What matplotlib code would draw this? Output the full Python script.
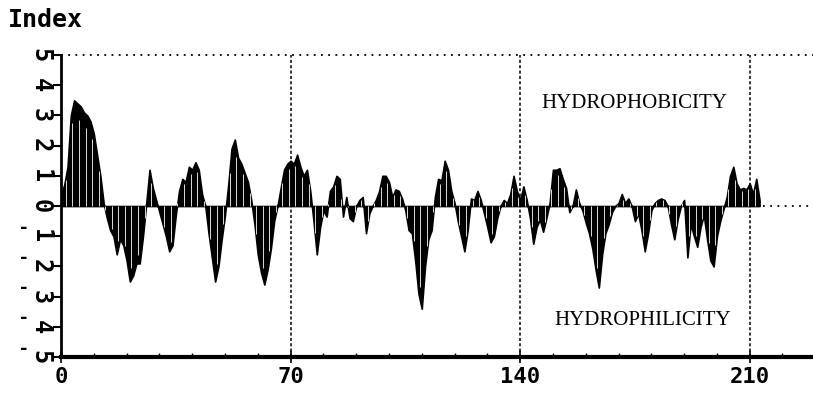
import numpy as np
import matplotlib.pyplot as plt

# Perfil de hidrofobicidad (un valor por residuo)
valores = [
    0.4, 0.7, 1.3, 3.0, 3.5, 3.4, 3.3, 3.1, 3.0, 2.8,
    2.4, 1.7, 1.0, 0.1, -0.4, -0.8, -1.0, -1.6, -1.1, -1.3,
    -1.8, -2.5, -2.3, -1.9, -1.9, -1.0, 0.1, 1.2, 0.6, 0.2,
    -0.2, -0.6, -1.0, -1.5, -1.3, -0.3, 0.5, 0.9, 0.8, 1.3,
    1.2, 1.45, 1.2, 0.4, 0.0, -0.9, -1.7, -2.5, -2.0, -1.1,
    -0.3, 0.7, 1.9, 2.2, 1.6, 1.4, 1.1, 0.8, 0.2, -0.6,
    -1.6, -2.2, -2.6, -2.1, -1.4, -0.5, 0.0, 0.6, 1.2, 1.4,
    1.5, 1.4, 1.7, 1.3, 1.0, 1.2, 0.5, -0.5, -1.6, -0.7,
    -0.15, -0.35, 0.5, 0.65, 1.0, 0.9, -0.35, 0.3, -0.4, -0.5,
    0.0, 0.2, 0.3, -0.9, -0.25, 0.0, 0.2, 0.5, 1.0, 1.0,
    0.8, 0.3, 0.55, 0.5, 0.25, -0.15, -0.8, -0.9, -1.8, -2.9,
    -3.4, -2.0, -1.1, -0.8, 0.3, 0.9, 0.85, 1.5, 1.2, 0.5,
    0.1, -0.5, -1.0, -1.5, -0.8, 0.25, 0.2, 0.5, 0.2, -0.25,
    -0.7, -1.2, -1.0, -0.4, 0.0, 0.2, 0.1, 0.4, 1.0, 0.5,
    0.2, 0.65, 0.2, -0.4, -1.25, -0.7, -0.45, -0.85, -0.4, 0.1,
    1.2, 1.2, 1.25, 0.9, 0.6, -0.2, 0.0, 0.55, 0.1, -0.15,
    -0.55, -0.9, -1.4, -2.1, -2.7, -1.6, -0.9, -0.6, -0.2, 0.0,
    0.1, 0.4, 0.1, 0.25, 0.0, -0.5, -0.25, -0.8, -1.5, -0.9,
    -0.15, 0.1, 0.2, 0.25, 0.2, 0.0, -0.6, -1.1, -0.45, 0.0,
    0.2, -1.7, -0.6, -1.0, -1.35, -0.7, -0.3, -1.1, -1.8, -2.0,
    -1.0, -0.5, -0.1, 0.3, 1.0, 1.3, 0.75, 0.55, 0.6, 0.55,
    0.75, 0.4, 0.9, 0.2,
]
residuos = np.arange(len(valores))
xticks = [0, 70, 140, 210]
yticks = list(range(-5, 6))

fig = plt.figure(figsize=(8.13, 4.03), dpi=100)
ax = fig.add_axes([0.075, 0.114, 0.925, 0.7495])
ax.set_xlim(0, 229.3)
ax.set_ylim(-5, 5)

# area rellena en negro con rayas blancas finas (aspecto de barras)
ax.fill_between(residuos, 0, valores, color="black", lw=1.2, edgecolor="black")
medios = residuos[1:-1:2] + 0.5
alturas = np.interp(medios, residuos, valores) * 0.85
ax.vlines(medios, 0, alturas, color="white", lw=0.6)

# lineas de referencia
ax.axhline(5, color="black", ls=(0, (1, 3)), lw=1.3, clip_on=False)
ax.plot([residuos[-1] + 1, 229.3], [0, 0], color="black", ls=(0, (1, 3)), lw=1.3)
for xv in xticks[1:]:
    ax.plot([xv, xv], [-5, 5], color="black", ls=(0, (2, 1.5)), lw=1.1)

ax.text(174.7, 3.4, "HYDROPHOBICITY", family="Liberation Serif", fontsize=15,
        ha="center", va="center")
ax.text(177.4, -3.78, "HYDROPHILICITY", family="Liberation Serif", fontsize=15,
        ha="center", va="center")

for s in ["top", "right"]:
    ax.spines[s].set_visible(False)
ax.spines["left"].set_linewidth(2)
ax.spines["bottom"].set_linewidth(3)

ax.set_xticks(xticks)
ax.set_xticklabels([str(v) for v in xticks], family="DejaVu Sans Mono",
                   fontweight="bold", fontsize=16)
ax.set_xticks(np.arange(0, 230, 10), minor=True)
ax.tick_params(axis="x", which="major", direction="inout", length=8, width=1.2, pad=3)
ax.tick_params(axis="x", which="minor", direction="in", length=3, width=1)

ax.set_yticks(yticks)
ax.set_yticklabels([str(abs(v)) for v in yticks], rotation=-90,
                   family="DejaVu Sans Mono", fontweight="bold", fontsize=17,
                   va="center")
ax.tick_params(axis="y", direction="out", length=6, width=1.5, pad=0)
for v in yticks:
    if v < 0:
        ax.text(-0.045, v + 0.28, "-", transform=ax.get_yaxis_transform(),
                fontsize=13, fontweight="bold", ha="right", va="center")

fig.text(0.01, 0.95, "Index", family="DejaVu Sans Mono", fontweight="bold",
         fontsize=18, va="center")

plt.savefig("out.png")
